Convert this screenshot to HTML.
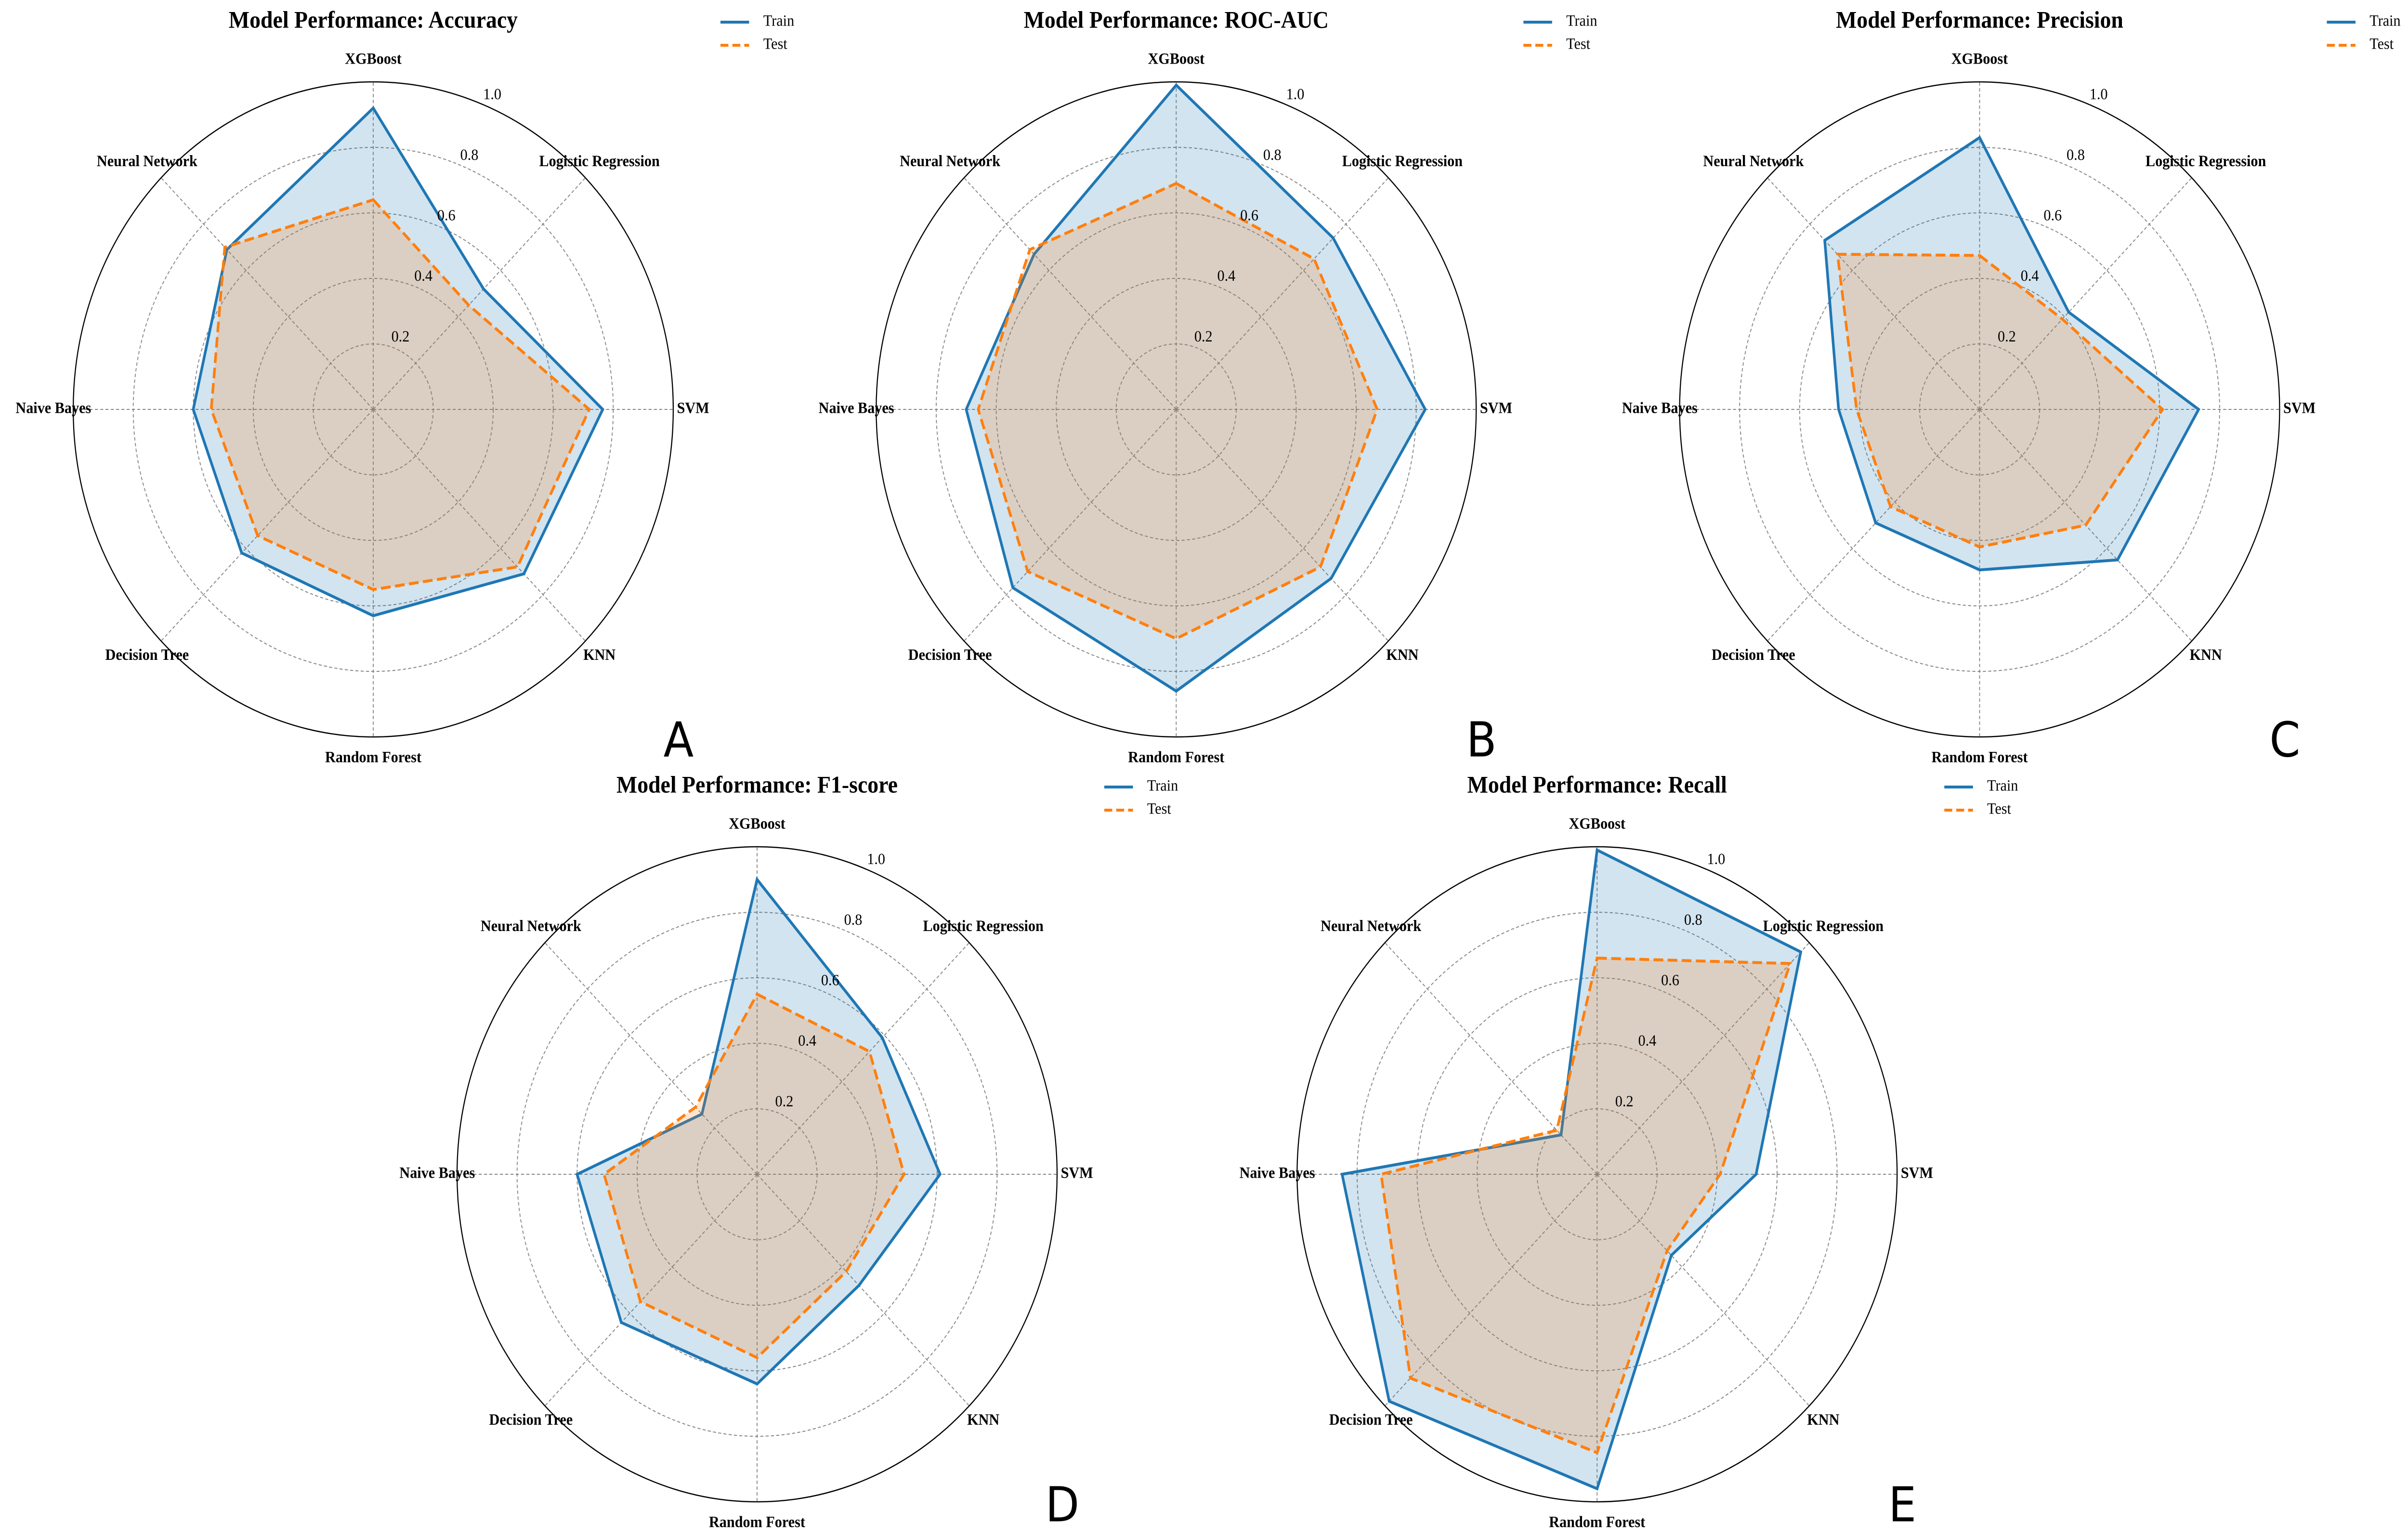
<!DOCTYPE html>
<html><head><meta charset="utf-8"><style>
html,body{margin:0;padding:0;background:#fff;overflow:hidden;width:100vw;height:100vh;}
svg{display:block;width:100vw;height:100vh;}
</style></head><body>
<svg id="chart" xmlns="http://www.w3.org/2000/svg" viewBox="0 0 5458 3189" preserveAspectRatio="none" overflow="hidden"></svg>
<script>
const categories = ["XGBoost","Logistic Regression","SVM","KNN","Random Forest","Decision Tree","Naive Bayes","Neural Network"];
const tickValues = [0.2,0.4,0.6,0.8,1.0];
const tickLabels = ["0.2","0.4","0.6","0.8","1.0"];
const panelTitles = ["Accuracy","ROC-AUC","Precision","F1-score","Recall"];
const panelLetters = ["A","B","C","D","E"];
const accTrain = [0.92,0.52,0.765,0.71,0.63,0.62,0.60,0.69];
const accTest  = [0.64,0.45,0.72,0.68,0.55,0.545,0.54,0.70];
const aucTrain = [0.99,0.74,0.83,0.73,0.86,0.77,0.70,0.67];
const aucTest  = [0.69,0.65,0.67,0.68,0.70,0.70,0.66,0.69];
const precTrain = [0.83,0.42,0.73,0.65,0.49,0.49,0.47,0.73];
const precTest  = [0.47,0.39,0.61,0.50,0.42,0.42,0.41,0.67];
const f1Train = [0.90,0.59,0.61,0.48,0.64,0.64,0.60,0.26];
const f1Test  = [0.55,0.53,0.49,0.42,0.56,0.55,0.51,0.29];
const recTrain = [0.99,0.96,0.53,0.35,0.96,0.98,0.85,0.17];
const recTest  = [0.66,0.91,0.41,0.33,0.85,0.88,0.72,0.19];

const trainSeries = [accTrain,aucTrain,precTrain,f1Train,recTrain];
const testSeries = [accTest,aucTest,precTest,f1Test,recTest];
const centers = [[846,850],[2666,850],[4487,850],[1716,2438],[3620,2438]];
const R = 680;
const NS = "http://www.w3.org/2000/svg";
const svg = document.getElementById('chart');

function mk(tag, attrs, parent){
  const e = document.createElementNS(NS, tag);
  for (const k in attrs) e.setAttribute(k, attrs[k]);
  parent.appendChild(e);
  return e;
}
function angle(i){ return i * 2*Math.PI/categories.length; }
function pt(cx, cy, i, v){ const a = angle(i); return [cx + Math.sin(a)*v*R, cy - Math.cos(a)*v*R]; }

centers.forEach(function(c, p){
  const cx = c[0], cy = c[1];
  const g = mk('g', {}, svg);
  
  
  tickValues.forEach(function(t, k){
    const ring = mk('circle', {cx:cx, cy:cy, r:t*R, fill:'none',
      stroke: t>=1 ? '#000' : '#888', 'stroke-width': t>=1 ? 2.5 : 2,
      'stroke-dasharray': t>=1 ? 'none' : '7,5'}, g);
    
    
  });
  categories.forEach(function(cat, i){
    const e = pt(cx, cy, i, 1);
    const sp = mk('line', {x1:cx, y1:cy, x2:e[0], y2:e[1], stroke:'#888', 'stroke-width':2, 'stroke-dasharray':'7,5'}, g);
    
    
  });
  function poly(vals, color, dash, name){
    const pts = vals.map(function(v,i){ return pt(cx,cy,i,v).join(','); }).join(' ');
    const f = mk('polygon', {points:pts, fill:color, 'fill-opacity':0.2, stroke:'none'}, g);
    
    
    const l = mk('polygon', {points:pts, fill:'none', stroke:color, 'stroke-width':6, 'stroke-linejoin':'miter', 'stroke-dasharray':dash}, g);
    
    
  }
  poly(trainSeries[p], '#1f77b4', 'none', 'train-series');
  poly(testSeries[p], '#ff7f0e', '22,10', 'test-series');
  tickValues.forEach(function(t, k){
    const a = Math.PI/8;
    const d = t*R + 25;
    const tx = mk('text', {x:cx + Math.sin(a)*d, y:cy - Math.cos(a)*d, 'font-family':'Liberation Serif, serif', 'font-size':33, 'text-anchor':'middle', 'dominant-baseline':'middle', fill:'#000'}, g);
    tx.textContent = tickLabels[k];
    
    
  });
  categories.forEach(function(cat, i){
    const a = angle(i);
    const tx = mk('text', {x:cx + Math.sin(a)*725, y:cy - Math.cos(a)*725, 'font-family':'Liberation Serif, serif', 'font-size':33, 'font-weight':'bold', 'text-anchor':'middle', 'dominant-baseline':'middle', fill:'#000'}, g);
    tx.textContent = cat;
    
    
  });
  const ti = mk('text', {x:cx, y:cy-804, 'font-family':'Liberation Serif, serif', 'font-size':50, 'font-weight':'bold', 'text-anchor':'middle', 'dominant-baseline':'middle', fill:'#000'}, g);
  ti.textContent = 'Model Performance: ' + panelTitles[p];
  
  
  const lg = mk('g', {}, g);
  
  
  [['Train','#1f77b4','none'],['Test','#ff7f0e','18,9']].forEach(function(it, k){
    const y = cy - 804 + k*48;
    const ln = mk('line', {x1:cx+787, y1:y, x2:cx+852, y2:y, stroke:it[1], 'stroke-width':6, 'stroke-dasharray':it[2]}, lg);
    
    
    const tx = mk('text', {x:cx+884, y:y, 'font-family':'Liberation Serif, serif', 'font-size':33, 'dominant-baseline':'middle', fill:'#000'}, lg);
    tx.textContent = it[0];
    
    
  });
  const lt = mk('text', {x:cx+692, y:cy+693, 'font-family':'DejaVu Sans, sans-serif', 'font-size':100, 'text-anchor':'middle', 'dominant-baseline':'middle', fill:'#000'}, g);
  lt.textContent = panelLetters[p];
  
  
});
</script>
</body></html>
